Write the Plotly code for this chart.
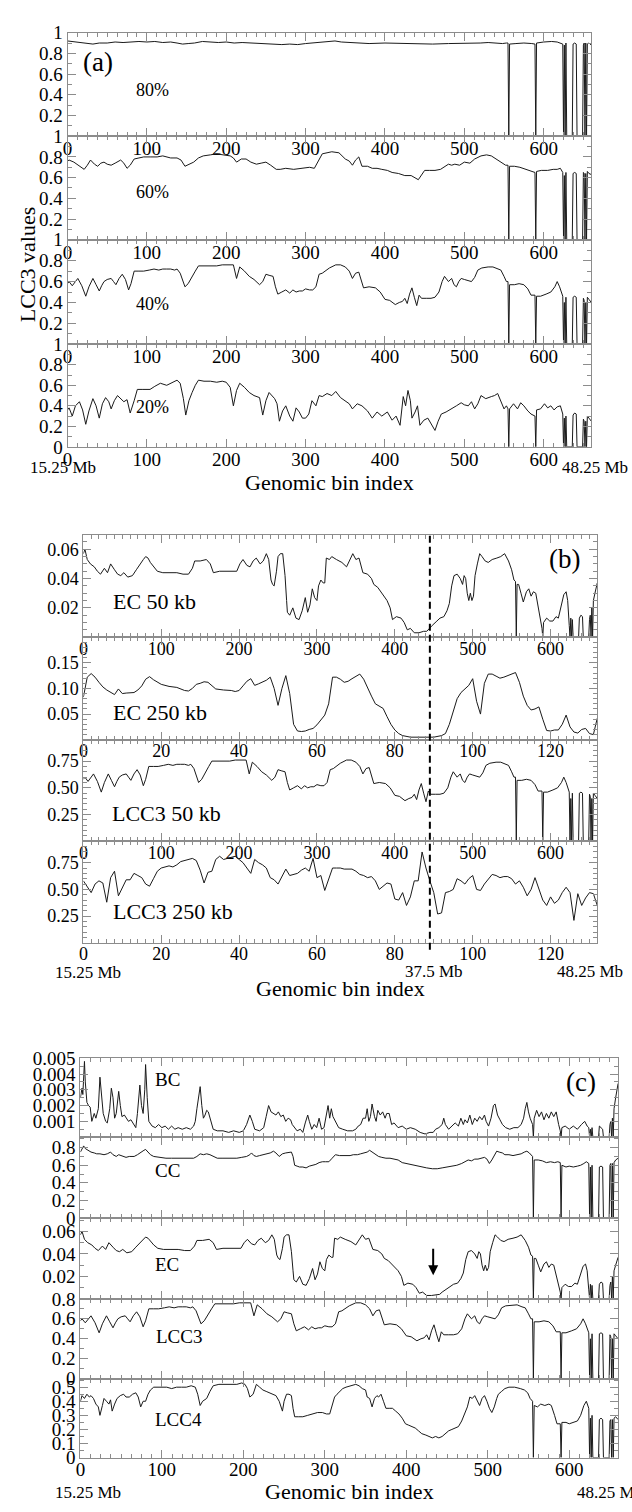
import plotly.graph_objects as go

# ------------------------------------------------------------------ data
# bins with no data (value drops to zero) in the 50 kb series
GAP_BINS = [556, 590, 625, 627, 629, 630, 631, 632, 633, 634, 635, 636,
            642, 643, 644, 645, 646, 647, 648, 649, 652, 654]

# (a) LCC3 values, 80 % of the network
LCC3_80 = [(0,.92),(5,.915),(10,.91),(18,.90),(25,.895),(32,.89),(40,.90),(50,.90),(60,.91),(70,.905),
           (80,.91),(90,.915),(100,.91),(110,.915),(120,.905),(130,.91),(138,.90),(145,.89),(152,.895),
           (160,.90),(170,.915),(180,.91),(190,.905),(200,.91),(210,.90),(220,.905),(230,.90),(240,.90),
           (250,.895),(260,.89),(270,.885),(280,.89),(290,.885),(300,.895),(310,.90),(320,.91),(330,.915),
           (337,.92),(345,.91),(355,.905),(365,.90),(380,.895),(400,.90),(420,.895),(440,.895),(460,.89),
           (480,.895),(500,.895),(520,.90),(530,.905),(540,.90),(548,.895),(553,.90),(555,.90)]
LCC3_80_TAIL = [(557,.89),(565,.895),(575,.9),(585,.895),(589,.89),(591,.9),(600,.91),(610,.915),(617,.91),
                (621,.9),(624,.89),(626,.88),(628,.9),(637,.89),(639,.9),(641,.89),(650,.88),(651,.9),
                (653,.9),(655,.89),(657,.9),(660,.88)]

# (a) 60 %
LCC3_60 = [(0,.76),(2,.77),(8,.75),(14,.72),(21,.68),(25,.72),(29,.77),(34,.73),(38,.71),(42,.74),(46,.75),
           (50,.73),(55,.72),(60,.74),(67,.77),(71,.74),(75,.69),(79,.72),(84,.78),(90,.79),(96,.80),
           (105,.80),(113,.80),(120,.81),(130,.79),(138,.79),(143,.77),(148,.71),(153,.73),(159,.75),
           (165,.79),(171,.81),(180,.82),(188,.83),(196,.82),(205,.81),(209,.79),(213,.75),(219,.78),
           (225,.78),(231,.75),(238,.73),(244,.74),(250,.75),(256,.72),(263,.68),(268,.68),(275,.69),
           (285,.68),(296,.69),(305,.70),(311,.69),(317,.78),(321,.83),(327,.84),(333,.85),(342,.84),
           (350,.78),(355,.76),(359,.72),(363,.77),(367,.80),(371,.71),(378,.71),(384,.69),(390,.69),
           (396,.68),(403,.67),(409,.65),(417,.64),(425,.62),(433,.62),(442,.58),(446,.62),(450,.67),
           (456,.67),(463,.67),(470,.68),(480,.73),(484,.72),(488,.73),(494,.72),(500,.75),(507,.74),
           (513,.78),(521,.81),(528,.82),(534,.81),(540,.78),(546,.75),(552,.72),(555,.72)]
LCC3_60_TAIL = [(557,.71),(563,.71),(570,.70),(577,.68),(580,.67),(585,.66),(589,.65),(591,.66),(597,.67),
                (605,.67),(612,.68),(617,.68),(621,.69),(624,.65),(626,.62),(628,.65),(637,.64),(639,.65),
                (641,.64),(650,.65),(651,.64),(653,.64),(655,.66),(657,.64),(660,.63)]

# (a) 40 %  == LCC3 at 50 kb in (b) and (c)
LCC3_40_BIN = [0,2,6,10,13,18,23,27,32,36,40,43,46,50,55,58,61,65,69,73,77,80,84,90,96,103,109,115,120,125,
               130,135,138,142,145,148,152,157,161,165,172,180,188,195,200,205,209,213,217,223,229,235,242,
               246,250,254,259,262,265,270,275,280,284,288,292,296,300,305,309,313,317,321,325,330,338,344,
               350,355,359,363,367,370,373,380,388,394,400,406,413,418,422,425,428,431,434,437,440,443,446,
               452,458,463,468,472,475,480,484,487,490,493,496,500,505,509,513,517,522,530,536,542,546,550,
               553,555]
LCC3_40_VAL = [.58,.60,.56,.60,.63,.56,.46,.55,.63,.57,.51,.56,.60,.62,.63,.60,.57,.63,.67,.62,.52,.58,.70,
               .70,.70,.71,.72,.71,.72,.72,.72,.71,.72,.68,.62,.55,.58,.64,.70,.75,.75,.75,.75,.76,.76,.76,
               .76,.63,.74,.70,.65,.62,.57,.60,.67,.66,.65,.55,.48,.50,.52,.49,.52,.50,.51,.51,.53,.52,.52,
               .55,.67,.68,.70,.73,.76,.76,.74,.70,.63,.68,.69,.62,.54,.55,.54,.50,.43,.42,.38,.40,.41,.44,
               .39,.48,.54,.45,.37,.47,.44,.44,.44,.45,.50,.60,.65,.60,.63,.57,.55,.60,.63,.62,.61,.60,.64,
               .71,.73,.74,.74,.72,.71,.65,.60,.60]
LCC3_40_TAIL = [(557,.57),(563,.57),(569,.58),(575,.57),(580,.53),(584,.47),(589,.47),(591,.46),(596,.46),
                (603,.48),(609,.50),(614,.55),(617,.60),(620,.55),(622,.50),(624,.46),(626,.40),(628,.45),
                (637,.45),(639,.46),(641,.45),(650,.44),(651,.42),(653,.40),(655,.45),(657,.43),(660,.40)]

# (a) 20 %
LCC3_20_BIN = [0,2,6,10,15,19,23,27,32,36,40,44,48,52,55,59,63,67,71,75,79,84,88,95,104,110,117,125,132,138,
               142,146,149,153,157,161,165,172,180,188,195,200,205,209,213,217,223,229,235,242,246,250,254,
               258,261,264,267,271,275,280,284,288,292,296,300,304,308,313,317,321,327,333,338,344,350,355,
               359,365,371,378,384,390,396,403,409,414,419,423,426,429,432,434,438,441,444,449,454,458,463,
               467,471,477,484,490,496,500,505,509,513,517,521,527,534,538,542,546,550,553,555]
LCC3_20_VAL = [.36,.38,.30,.40,.44,.36,.22,.35,.47,.40,.28,.42,.48,.44,.37,.45,.50,.47,.44,.46,.33,.45,.56,
               .56,.56,.59,.62,.60,.63,.65,.62,.47,.31,.45,.53,.60,.65,.64,.64,.63,.64,.63,.58,.40,.55,.62,
               .58,.53,.50,.48,.31,.45,.53,.50,.47,.42,.25,.35,.40,.30,.25,.38,.34,.28,.28,.32,.45,.40,.50,
               .49,.52,.50,.54,.48,.45,.42,.37,.42,.40,.35,.28,.34,.30,.34,.26,.30,.21,.49,.40,.55,.45,.28,
               .34,.40,.21,.26,.28,.22,.16,.25,.32,.34,.37,.40,.43,.41,.40,.44,.37,.42,.50,.47,.49,.50,.52,
               .45,.37,.40,.37]
LCC3_20_TAIL = [(557,.37),(562,.42),(567,.37),(571,.43),(575,.40),(580,.35),(584,.32),(589,.30),(591,.36),
                (596,.37),(601,.42),(605,.38),(609,.40),(613,.36),(617,.39),(621,.40),(624,.32),(626,.28),
                (628,.30),(637,.31),(639,.33),(641,.32),(650,.27),(651,.25),(653,.25),(655,.30),(657,.28),
                (660,.25)]

# EC at 50 kb (panel b top, panel c third row)
EC50_BIN = [0,2,5,9,14,18,22,27,31,35,40,44,48,52,57,63,68,74,77,80,83,86,90,95,102,110,120,128,135,140,
            143,150,158,163,167,175,185,197,201,205,210,214,218,222,227,231,235,238,241,243,245,248,250,253,
            256,259,261,262,265,269,273,277,281,285,288,291,294,297,300,302,305,308,310,312,316,319,325,332,
            338,342,346,350,354,359,365,370,373,378,382,386,390,394,397,402,408,412,416,420,425,431,437,441,
            444,448,454,458,463,467,470,473,476,480,484,487,489,491,493,495,497,499,501,503,506,509,512,516,
            520,525,531,536,541,546,550,553,555]
EC50_VAL = [.057,.060,.053,.050,.048,.045,.043,.047,.044,.050,.046,.043,.042,.044,.041,.042,.046,.051,.053,
            .055,.054,.051,.048,.045,.044,.044,.044,.043,.043,.047,.052,.052,.053,.050,.044,.045,.045,.045,
            .050,.053,.049,.048,.052,.054,.050,.052,.057,.053,.039,.036,.035,.045,.055,.057,.057,.042,.025,
            .017,.015,.020,.013,.012,.018,.027,.017,.022,.033,.027,.025,.035,.039,.037,.037,.054,.053,.055,
            .053,.051,.048,.052,.057,.053,.054,.044,.043,.040,.036,.034,.031,.028,.025,.020,.012,.014,.013,
            .010,.005,.006,.003,.003,.004,.004,.006,.008,.011,.013,.014,.018,.023,.035,.042,.043,.040,.036,
            .042,.040,.030,.025,.030,.025,.028,.042,.050,.057,.055,.052,.051,.053,.054,.055,.057,.052,.046,
            .039,.038]
EC50_TAIL = [(557,.036),(559,.036),(562,.030),(565,.024),(569,.031),(572,.033),(575,.028),(578,.031),
             (581,.030),(584,.021),(587,.010),(589,.006),(591,.010),(595,.013),(599,.011),(603,.011),
             (607,.014),(610,.013),(614,.022),(617,.029),(620,.031),(622,.025),(624,.008),(626,.013),
             (628,.012),(637,.013),(639,.015),(641,.014),(650,.012),(651,.015),(653,.020),(655,.025),
             (657,.030),(660,.037)]

# EC at 250 kb (bins 0..132)
EC250 = [(0,.083),(1,.122),(2,.129),(3,.122),(4,.112),(5,.103),(6,.097),(7,.092),(8,.088),(9,.099),
         (10,.090),(11,.091),(12,.092),(13,.092),(14,.097),(15,.105),(16,.118),(17,.123),(18,.117),(19,.112),
         (20,.108),(22,.104),(24,.102),(26,.096),(27,.095),(28,.100),(29,.108),(30,.110),(31,.113),(32,.112),
         (33,.106),(34,.099),(36,.097),(38,.096),(39,.094),(40,.096),(41,.105),(42,.114),(43,.119),(44,.106),
         (45,.109),(46,.112),(47,.116),(48,.122),(49,.100),(50,.067),(51,.100),(52,.125),(53,.090),(54,.030),
         (55,.017),(56,.016),(57,.017),(58,.020),(59,.022),(60,.029),(61,.038),(62,.048),(63,.070),(64,.122),
         (65,.122),(66,.118),(67,.112),(68,.114),(69,.119),(70,.124),(71,.128),(72,.118),(73,.100),(74,.085),
         (75,.070),(76,.066),(77,.061),(78,.045),(79,.030),(80,.019),(81,.012),(82,.008),(84,.005),(86,.005),
         (88,.005),(90,.005),(92,.008),(93,.012),(94,.030),(95,.055),(96,.080),(97,.092),(98,.099),(99,.106),
         (100,.119),(101,.075),(102,.050),(103,.110),(104,.128),(105,.128),(106,.124),(107,.120),(108,.122),
         (109,.125),(110,.128),(111,.131),(112,.112),(113,.085),(114,.067),(115,.058),(116,.060),(117,.064),
         (118,.040),(119,.018),(120,.017),(121,.019),(122,.019),(123,.030),(124,.048),(125,.025),(126,.015),
         (127,.013),(128,.020),(129,.022),(130,.012),(131,.010),(132,.042)]

# LCC3 at 250 kb (bins 0..132)
LCC3_250 = [(0,.58),(1,.52),(2,.47),(3,.55),(4,.58),(5,.56),(6,.38),(7,.61),(8,.67),(9,.44),(10,.52),(11,.59),
            (12,.59),(13,.65),(14,.63),(15,.61),(16,.55),(17,.53),(18,.60),(19,.67),(20,.70),(21,.71),(22,.72),
            (23,.71),(24,.73),(25,.76),(26,.77),(27,.78),(28,.79),(29,.77),(30,.68),(31,.56),(32,.66),(33,.67),
            (34,.78),(35,.81),(36,.78),(37,.79),(38,.80),(39,.81),(40,.78),(41,.75),(42,.70),(43,.65),(44,.78),
            (45,.75),(46,.73),(47,.70),(48,.61),(49,.59),(50,.55),(51,.62),(52,.69),(53,.63),(54,.64),(55,.65),
            (56,.68),(57,.70),(58,.67),(59,.79),(60,.61),(61,.63),(62,.49),(63,.60),(64,.70),(65,.70),(66,.70),
            (67,.69),(68,.69),(69,.69),(70,.67),(71,.64),(72,.63),(73,.61),(74,.62),(75,.58),(76,.50),(77,.53),
            (78,.56),(79,.55),(80,.41),(81,.40),(82,.47),(83,.35),(84,.43),(85,.58),(86,.58),(87,.85),(88,.70),
            (89,.58),(90,.47),(91,.27),(92,.28),(93,.47),(94,.48),(95,.50),(96,.60),(97,.58),(98,.55),(99,.60),
            (100,.63),(101,.50),(102,.49),(103,.55),(104,.60),(105,.64),(106,.63),(107,.61),(108,.62),(109,.62),
            (110,.60),(111,.55),(112,.58),(113,.52),(114,.44),(115,.50),(116,.61),(117,.50),(118,.40),(119,.35),
            (120,.43),(121,.37),(122,.40),(123,.47),(124,.52),(125,.47),(126,.21),(127,.46),(128,.35),(129,.42),
            (130,.47),(131,.46),(132,.35)]

# (c) betweenness centrality
BC = [(0,.0025),(2,.0031),(3,.0027),(5,.0048),(6,.0035),(8,.0022),(10,.0020),(12,.0019),(14,.0010),(17,.0015),
      (19,.0012),(22,.0018),(24,.0038),(26,.0025),(28,.0015),(31,.0010),(33,.0009),(36,.0018),(38,.0031),
      (40,.0025),(42,.0012),(44,.0015),(47,.0029),(49,.0020),(51,.0013),(54,.0014),(56,.0012),(59,.0010),
      (62,.0011),(65,.0008),(68,.0006),(70,.0015),(73,.0033),(75,.0020),(77,.0015),(79,.0030),(80,.0046),
      (82,.0025),(84,.0010),(88,.0007),(92,.0006),(96,.0008),(100,.0006),(104,.0007),(108,.0005),(112,.0007),
      (116,.0005),(120,.0006),(125,.0005),(130,.0006),(135,.0005),(139,.0007),(141,.0010),(143,.0018),
      (145,.0025),(147,.0032),(149,.0020),(151,.0012),(153,.0014),(155,.0017),(157,.0016),(160,.0010),
      (163,.0005),(168,.0004),(175,.0004),(182,.0003),(188,.0004),(195,.0003),(200,.0004),(204,.0008),
      (208,.0014),(211,.0010),(214,.0005),(220,.0004),(225,.0006),(228,.0013),(231,.0020),(234,.0016),
      (237,.0015),(240,.0014),(243,.0016),(246,.0013),(249,.0014),(252,.0010),(255,.0012),(258,.0011),
      (260,.0008),(263,.0006),(266,.0004),(270,.0005),(273,.0003),(276,.0009),(279,.0014),(281,.0010),
      (284,.0005),(287,.0008),(290,.0006),(293,.0012),(296,.0005),(299,.0006),(302,.0016),(304,.0020),
      (306,.0012),(308,.0018),(310,.0013),(313,.0010),(317,.0006),(322,.0005),(328,.0004),(334,.0004),
      (338,.0005),(341,.0007),(344,.0008),(347,.0012),(350,.0012),(352,.0018),(354,.0010),(356,.0013),
      (358,.0021),(361,.0013),(363,.0010),(365,.0017),(368,.0014),(371,.0016),(374,.0012),(376,.0015),
      (379,.0015),(382,.0008),(385,.0009),(390,.0006),(395,.0007),(400,.0005),(405,.0006),(411,.0005),
      (417,.0003),(423,.0002),(429,.0003),(433,.0003),(436,.0005),(440,.0006),(444,.0008),(446,.0012),
      (448,.0008),(452,.0005),(456,.0007),(460,.0009),(464,.0007),(467,.0012),(470,.0008),(472,.0011),
      (475,.0009),(478,.0014),(481,.0008),(484,.0012),(487,.0010),(490,.0013),(493,.0011),(496,.0014),
      (498,.0010),(501,.0007),(504,.0012),(507,.0020),(509,.0021),(512,.0014),(515,.0011),(518,.0008),
      (522,.0006),(527,.0005),(532,.0006),(537,.0006),(541,.0008),(544,.0012),(546,.0018),(548,.0022),
      (550,.0016),(552,.0012),(555,.0008)]
BC_TAIL = [(557,.0012),(560,.0017),(563,.0013),(566,.0016),(569,.0011),(572,.0015),(575,.0012),(578,.0016),
           (581,.0013),(584,.0016),(587,.0008),(589,.0004),(591,.0006),(595,.0007),(600,.0005),(605,.0007),
           (610,.0005),(615,.0008),(619,.0010),(622,.0007),(624,.0006),(626,.0005),(628,.0006),(637,.0007),
           (639,.0006),(641,.0005),(650,.0008),(651,.0010),(653,.0012),(655,.0018),(657,.0025),(660,.0034)]

# (c) closeness centrality
CC = [(0,.75),(2,.79),(4,.82),(6,.79),(9,.77),(13,.75),(17,.74),(20,.73),(24,.73),(29,.72),(33,.73),(37,.75),
      (40,.72),(44,.70),(47,.72),(50,.71),(53,.70),(56,.69),(60,.70),(66,.70),(70,.72),(74,.75),(78,.77),
      (80,.78),(83,.75),(86,.72),(90,.70),(98,.69),(105,.68),(112,.68),(119,.68),(126,.68),(133,.68),
      (139,.68),(143,.70),(147,.73),(151,.72),(155,.73),(159,.72),(163,.70),(168,.68),(175,.68),(185,.68),
      (192,.68),(198,.69),(204,.70),(208,.72),(210,.74),(213,.71),(216,.70),(220,.71),(225,.72),(229,.73),
      (233,.74),(237,.76),(240,.74),(244,.70),(248,.73),(252,.74),(256,.75),(259,.75),(261,.70),(263,.60),
      (266,.59),(269,.58),(273,.58),(277,.57),(281,.59),(285,.60),(289,.61),(293,.63),(297,.64),(301,.64),
      (305,.64),(309,.68),(313,.72),(318,.71),(322,.71),(326,.71),(331,.71),(335,.72),(340,.72),(344,.73),
      (348,.74),(352,.75),(355,.77),(358,.75),(362,.72),(366,.70),(370,.69),(375,.68),(380,.68),(385,.67),
      (390,.66),(395,.63),(400,.62),(405,.61),(411,.59),(418,.58),(425,.57),(432,.56),(438,.56),(444,.57),
      (450,.58),(456,.59),(462,.60),(468,.62),(472,.64),(476,.66),(480,.65),(484,.67),(488,.67),(492,.68),
      (496,.69),(499,.67),(502,.62),(505,.66),(508,.72),(511,.76),(514,.75),(518,.74),(521,.72),(526,.72),
      (531,.71),(536,.72),(541,.73),(545,.75),(548,.76),(551,.74),(553,.72),(555,.70)]
CC_TAIL = [(557,.66),(562,.66),(567,.65),(572,.63),(577,.64),(582,.63),(586,.64),(589,.63),(591,.60),(596,.58),
           (600,.59),(605,.58),(610,.59),(614,.60),(618,.62),(621,.64),(624,.62),(626,.58),(628,.60),(637,.58),
           (639,.59),(641,.58),(650,.60),(651,.62),(653,.62),(655,.63),(657,.66),(660,.68)]

# (c) LCC4
LCC4 = [(0,.40),(2,.44),(5,.42),(8,.45),(11,.43),(13,.44),(16,.42),(19,.38),(22,.36),(24,.30),(27,.37),(29,.42),
        (32,.40),(35,.38),(37,.41),(39,.33),(42,.38),(45,.42),(49,.44),(53,.45),(56,.43),(60,.43),(64,.45),
        (68,.46),(71,.43),(74,.36),(77,.40),(80,.40),(83,.45),(86,.48),(90,.50),(95,.50),(100,.50),(106,.50),
        (112,.49),(118,.50),(124,.50),(130,.50),(136,.51),(141,.50),(144,.45),(147,.37),(150,.40),(155,.42),
        (159,.47),(163,.51),(170,.52),(178,.52),(185,.52),(192,.52),(198,.53),(202,.52),(205,.49),(208,.43),
        (212,.45),(216,.52),(220,.50),(224,.48),(228,.47),(232,.46),(236,.45),(240,.44),(244,.40),(248,.33),
        (250,.40),(253,.45),(256,.45),(259,.44),(261,.35),(263,.29),(268,.29),(273,.29),(279,.30),(285,.31),
        (291,.32),(297,.32),(302,.31),(306,.31),(309,.38),(312,.43),(315,.45),(318,.47),(322,.49),(326,.50),
        (332,.51),(338,.52),(342,.51),(346,.49),(350,.48),(352,.43),(355,.42),(358,.36),(361,.42),(364,.44),
        (366,.43),(369,.45),(372,.40),(375,.35),(379,.35),(383,.35),(387,.33),(391,.31),(395,.28),(399,.24),
        (403,.23),(407,.22),(411,.21),(415,.19),(419,.17),(424,.16),(428,.15),(432,.14),(436,.15),(440,.14),
        (444,.15),(448,.17),(452,.19),(456,.20),(460,.21),(464,.22),(468,.26),(472,.31),(475,.36),(478,.43),
        (481,.42),(484,.44),(487,.41),(490,.37),(493,.42),(496,.44),(499,.40),(502,.35),(505,.32),(508,.36),
        (511,.42),(513,.45),(517,.47),(521,.49),(526,.50),(533,.50),(540,.49),(545,.48),(549,.46),(552,.42),
        (555,.40)]
LCC4_TAIL = [(557,.37),(561,.36),(565,.38),(570,.37),(575,.38),(578,.37),(582,.30),(585,.24),(589,.24),
             (591,.25),(596,.25),(600,.24),(605,.25),(610,.26),(614,.30),(618,.37),(621,.40),(624,.35),
             (626,.28),(628,.30),(637,.27),(639,.28),(641,.27),(650,.26),(651,.27),(653,.27),(655,.28),
             (657,.29),(660,.27)]

# tick labels
X50_TICKS = [0, 100, 200, 300, 400, 500, 600]
X250_TICKS = [0, 20, 40, 60, 80, 100, 120]
Y_A_TOP = ["0.2", "0.4", "0.6", "0.8", "1"]
Y_A_BOT = ["0", "0.2", "0.4", "0.6", "0.8", "1"]
Y_EC = ["0.02", "0.04", "0.06"]
Y_EC250 = ["0.05", "0.10", "0.15"]
Y_LCC_B = ["0.25", "0.50", "0.75"]
Y_BC = ["0.001", "0.002", "0.003", "0.004", "0.005"]
Y_C_08 = ["0", "0.2", "0.4", "0.6", "0.8"]
Y_LCC4 = ["0", "0.1", "0.2", "0.3", "0.4", "0.5"]


def assemble(main, tail=(), gaps=True):
    pts = list(main) + list(tail)
    if gaps:
        pts += [(g, 0.0) for g in GAP_BINS]
    pts.sort(key=lambda p: p[0])
    return [p[0] for p in pts], [p[1] for p in pts]


def pairs(bins, vals):
    assert len(bins) == len(vals)
    return list(zip(bins, vals))


s_a1 = assemble(LCC3_80, LCC3_80_TAIL)
s_a2 = assemble(LCC3_60, LCC3_60_TAIL)
s_lcc3 = assemble(pairs(LCC3_40_BIN, LCC3_40_VAL), LCC3_40_TAIL)
s_a4 = assemble(pairs(LCC3_20_BIN, LCC3_20_VAL), LCC3_20_TAIL)
s_ec50 = assemble(pairs(EC50_BIN, EC50_VAL), EC50_TAIL)
s_ec250 = assemble(EC250, gaps=False)
s_l250 = assemble(LCC3_250, gaps=False)
s_bc = assemble(BC, BC_TAIL)
s_cc = assemble(CC, CC_TAIL)
s_lcc4 = assemble(LCC4, LCC4_TAIL)

# ------------------------------------------------------------------ layout
W, H = 632, 1512
FONT = "Liberation Serif"
AXC = "#8c8c8c"


def fx(p):
    return p / W


def fy(p):
    return 1 - p / H


def lab_vals(labels):
    return [float(t) for t in labels]


def frange(a, b, step):
    out, v = [], a
    while v <= b + 1e-9:
        out.append(round(v, 6))
        v += step
    return out


A_X = (63, 591)
B_X = (79, 597)
C_X = (76, 618)

panels = [
    # (a)
    dict(s=s_a1, xp=A_X, yp=(23, 128), xr=[0, 660], yr=[0, 1], yl=Y_A_TOP, ymin=0.1,
         xt=X50_TICKS, xl=True, xmin=12.5, fs=19),
    dict(s=s_a2, xp=A_X, yp=(128, 233), xr=[0, 660], yr=[0, 1], yl=Y_A_TOP, ymin=0.1,
         xt=X50_TICKS, xl=True, xmin=12.5, fs=19),
    dict(s=s_lcc3, xp=A_X, yp=(233, 339), xr=[0, 660], yr=[0, 1], yl=Y_A_TOP, ymin=0.1,
         xt=X50_TICKS, xl=True, xmin=12.5, fs=19),
    dict(s=s_a4, xp=A_X, yp=(339, 443), xr=[0, 660], yr=[0, 1], yl=Y_A_BOT, ymin=0.1,
         xt=X50_TICKS, xl=True, xmin=12.5, fs=19),
    # (b)
    dict(s=s_ec50, xp=B_X, yp=(532, 636), xr=[0, 660], yr=[0, 0.07], yl=Y_EC, ymin=0.005,
         xt=X50_TICKS, xl=True, xmin=10, fs=18),
    dict(s=s_ec250, xp=B_X, yp=(636, 740), xr=[0, 132], yr=[0, 0.2], yl=Y_EC250, ymin=0.01,
         xt=X250_TICKS, xl=True, xmin=2, fs=18),
    dict(s=s_lcc3, xp=B_X, yp=(740, 843), xr=[0, 660], yr=[0, 0.95], yl=Y_LCC_B, ymin=0.05,
         xt=X50_TICKS, xl=True, xmin=10, fs=18),
    dict(s=s_l250, xp=B_X, yp=(843, 946), xr=[0, 132], yr=[0, 0.95], yl=Y_LCC_B, ymin=0.05,
         xt=X250_TICKS, xl=True, xmin=2, fs=18),
    # (c)
    dict(s=s_bc, xp=C_X, yp=(1063, 1143), xr=[0, 660], yr=[0, 0.005], yl=Y_BC, ymin=0.0005,
         xt=X50_TICKS, xl=False, xmin=12.5, fs=19),
    dict(s=s_cc, xp=C_X, yp=(1143, 1225), xr=[0, 660], yr=[0, 0.92], yl=Y_C_08, ymin=0.1,
         xt=X50_TICKS, xl=False, xmin=12.5, fs=19),
    dict(s=s_ec50, xp=C_X, yp=(1225, 1307), xr=[0, 660], yr=[0, 0.072], yl=Y_EC, ymin=0.01,
         xt=X50_TICKS, xl=False, xmin=12.5, fs=19),
    dict(s=s_lcc3, xp=C_X, yp=(1307, 1388), xr=[0, 660], yr=[0, 0.8], yl=Y_C_08, ymin=0.1,
         xt=X50_TICKS, xl=False, xmin=12.5, fs=19),
    dict(s=s_lcc4, xp=C_X, yp=(1388, 1468), xr=[0, 660], yr=[0, 0.56], yl=Y_LCC4, ymin=0.05,
         xt=X50_TICKS, xl=True, xmin=12.5, fs=19),
]

fig = go.Figure()
layout = dict(
    width=W, height=H, autosize=False,
    margin=dict(l=0, r=0, t=0, b=0, pad=0),
    paper_bgcolor="white", plot_bgcolor="white",
    showlegend=False,
    font=dict(family=FONT, color="black"),
)

for i, p in enumerate(panels, start=1):
    xs, ys = p["s"]
    fig.add_trace(go.Scatter(x=xs, y=ys, mode="lines",
                             line=dict(color="#1a1a1a", width=1),
                             xaxis=f"x{i}", yaxis=f"y{i}", hoverinfo="skip"))
    tf = dict(family=FONT, size=p["fs"], color="black")
    layout[f"xaxis{i}"] = dict(
        domain=[fx(p["xp"][0]), fx(p["xp"][1])], anchor=f"y{i}", range=p["xr"],
        showline=True, linecolor=AXC, linewidth=1, mirror="allticks",
        ticks="inside", ticklen=8, tickwidth=1, tickcolor=AXC,
        tickmode="array", tickvals=p["xt"], ticktext=[str(v) for v in p["xt"]],
        showticklabels=p["xl"], tickfont=tf, ticklabelstandoff=-5,
        minor=dict(ticks="inside", ticklen=4, tickwidth=1, tickcolor=AXC,
                   tickmode="array", tickvals=frange(0, p["xr"][1], p["xmin"])),
        showgrid=False, zeroline=False, fixedrange=True)
    layout[f"yaxis{i}"] = dict(
        domain=[fy(p["yp"][1]), fy(p["yp"][0])], anchor=f"x{i}", range=p["yr"],
        showline=True, linecolor=AXC, linewidth=1, mirror="allticks",
        ticks="inside", ticklen=8, tickwidth=1, tickcolor=AXC,
        tickmode="array", tickvals=lab_vals(p["yl"]), ticktext=p["yl"],
        tickfont=tf,
        minor=dict(ticks="inside", ticklen=4, tickwidth=1, tickcolor=AXC,
                   tickmode="array", tickvals=frange(0, p["yr"][1], p["ymin"])),
        showgrid=False, zeroline=False, fixedrange=True)


def txt(text, x, y, size, **kw):
    d = dict(text=text, x=fx(x), y=fy(y), xref="paper", yref="paper",
             showarrow=False, xanchor="center", yanchor="middle",
             font=dict(family=FONT, size=size, color="black"))
    d.update(kw)
    return d


ann = [
    txt("(a)", 94, 53, 27),
    txt("80%", 149, 81, 18), txt("60%", 149, 185, 18),
    txt("40%", 149, 298, 18), txt("20%", 149, 403, 18),
    txt("LCC3 values", 23, 258, 22, textangle=-90),
    txt("15.25 Mb", 58, 464, 17), txt("48.25 Mb", 595, 464, 17),
    txt("Genomic bin index", 327, 479, 22),
    txt("(b)", 564, 557, 27),
    txt("EC 50 kb", 151, 600, 22), txt("EC 250 kb", 156, 712, 22),
    txt("LCC3 50 kb", 163, 815, 22), txt("LCC3 250 kb", 169, 914, 22),
    txt("15.25 Mb", 84, 976, 17), txt("37.5 Mb", 432, 975, 17), txt("48.25 Mb", 590, 975, 17),
    txt("Genomic bin index", 338, 992, 22),
    txt("(c)", 581, 1087, 27),
    txt("BC", 164, 1085, 19), txt("CC", 164, 1177, 19), txt("EC", 163, 1272, 19),
    txt("LCC3", 175, 1345, 19), txt("LCC4", 175, 1429, 19),
    txt("15.25 Mb", 84, 1503, 17), txt("48.25 Mb", 610, 1503, 17),
    txt("Genomic bin index", 347, 1502, 22),
    dict(x=433, y=0.021, xref="x11", yref="y11", ax=433, ay=0.046, axref="x11", ayref="y11",
         text="", showarrow=True, arrowhead=2, arrowsize=1, arrowwidth=2, arrowcolor="black"),
]
layout["annotations"] = ann
layout["shapes"] = [
    dict(type="line", xref="x5", yref="paper", x0=445, x1=445, y0=fy(953), y1=fy(532),
         line=dict(color="black", width=2, dash="7px,4px")),
]

fig.update_layout(**layout)
fig.write_html("out.html")
